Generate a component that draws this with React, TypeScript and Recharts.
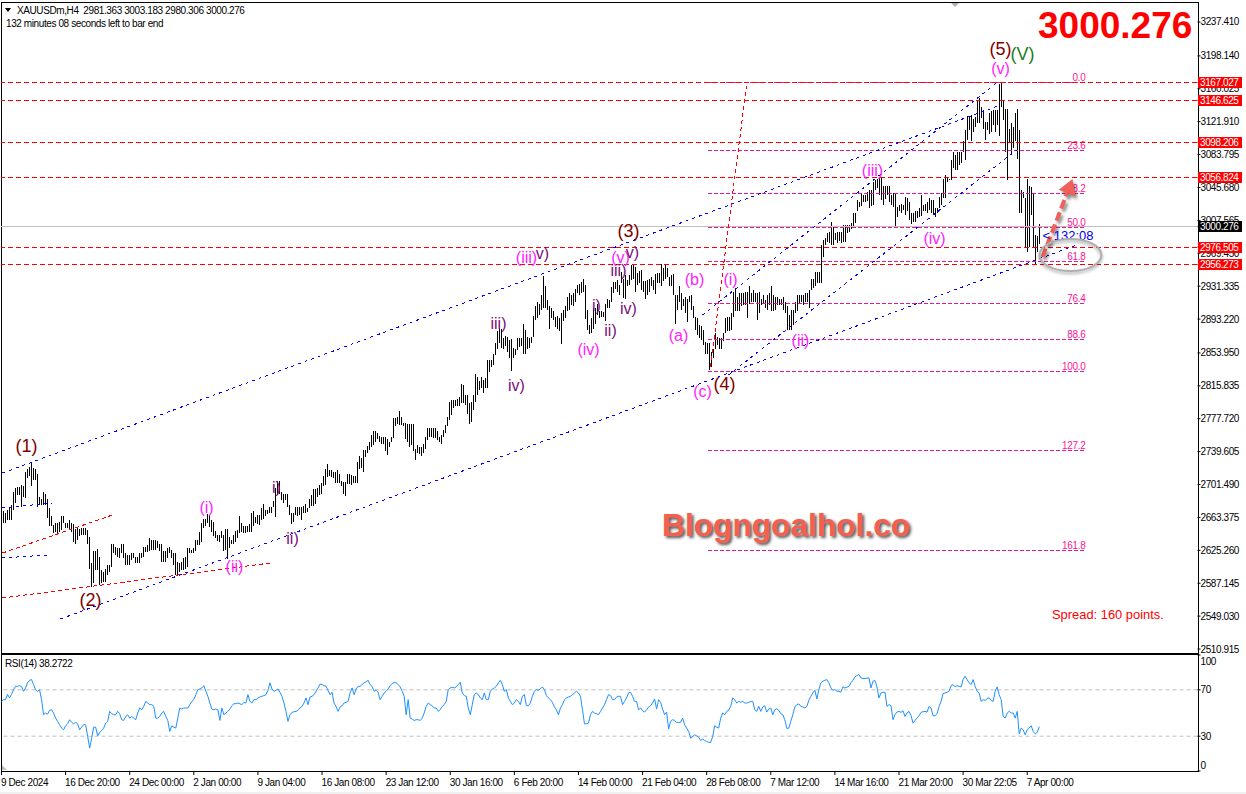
import React from 'react';
import { ComposedChart, Bar, Line, XAxis, YAxis, ReferenceLine, ReferenceDot } from 'recharts';

const FONT = '"Liberation Sans", Arial, sans-serif';
const PRICE_TICKS = [3237.41, 3198.14, 3160.025, 3121.91, 3083.795, 3045.68, 3007.565, 2969.45, 2931.335, 2893.22, 2853.95, 2815.835, 2777.72, 2739.605, 2701.49, 2663.375, 2625.26, 2587.145, 2549.03, 2510.915];
const RSI_TICKS = [0, 30, 70, 100];
const TIME_LABELS = ['9 Dec 2024', '16 Dec 20:00', '24 Dec 00:00', '2 Jan 00:00', '9 Jan 04:00', '16 Jan 08:00', '23 Jan 12:00', '30 Jan 16:00', '6 Feb 20:00', '14 Feb 00:00', '21 Feb 04:00', '28 Feb 08:00', '7 Mar 12:00', '14 Mar 16:00', '21 Mar 20:00', '30 Mar 22:05', '7 Apr 00:00'];
const TIME_TICK_STEP = 32;
const SLOTS = 598;

const highs = [
  2671,2668,2672,2674,2678,2693,2698,2699,2699,2701,2700,2716,2720,2722,2727,2721,2719,2714,2687,2685,
  2693,2691,2685,2674,2665,2655,2657,2657,2658,2665,2665,2657,2657,2660,2657,2656,2650,2651,2650,2651,
  2651,2651,2649,2641,2610,2624,2624,2627,2618,2602,2600,2604,2608,2608,2632,2632,2629,2628,2628,2633,
  2633,2622,2620,2620,2622,2622,2618,2618,2622,2622,2629,2629,2631,2639,2637,2637,2637,2636,2633,2633,
  2624,2624,2628,2629,2626,2622,2622,2612,2610,2612,2616,2618,2628,2628,2626,2628,2637,2637,2647,2657,
  2662,2662,2667,2666,
  2660,2658,2648,2643,2643,2648,2643,2650,2650,2641,2637,2643,2648,2649,2665,2657,2653,2653,2653,2656,
  2669,2671,2664,2666,2666,2674,2679,2672,2672,2675,2676,2682,2697,2705,2705,2693,2691,2691,2691,2678,
  2668,2668,2675,2675,2676,2676,2677,2679,2674,2685,2689,2696,2696,2698,2701,2703,2711,2720,2725,2718,
  2718,2716,2716,2718,2714,2705,2704,2704,2714,2714,2712,2711,2711,2728,2734,2732,2741,2741,2746,2751,
  2759,2763,2763,2761,2758,2756,2756,2756,2754,2751,2757,2778,2778,2780,2787,2780,2773,2773,2772,2772,
  2772,2772,2743,2747,2745,
  2745,2749,2757,2767,2767,2767,2767,2767,2763,2757,2759,2765,2770,2780,2797,2799,2799,2800,2801,2803,
  2818,2817,2805,2805,2796,2797,2805,2830,2826,2821,2826,2823,2825,2846,2846,2846,2853,2865,2879,2882,
  2882,2871,2874,2872,2869,2870,2860,2859,2871,2871,2871,2887,2881,2872,2871,2873,2897,2908,2913,2911,
  2921,2943,2931,2915,2908,2906,2902,2896,2897,2894,2900,2904,2908,2919,2923,2921,2923,2928,2933,2934,
  2936,2940,2933,2904,2886,2894,2906,2906,2911,2902,2902,2901,2911,2916,2915,2930,2936,2936,2939,2933,
  2948,2940,2944,2938,2944,
  2956,2957,2953,2946,2949,2950,2937,2937,2939,2940,2942,2938,2945,2946,2946,2957,2952,2956,2952,2942,
  2944,2945,2921,2921,2931,2923,2917,2919,2917,2920,2921,2908,2896,2894,2886,2885,2881,2867,2865,2865,
  2855,2859,2877,2873,2871,2871,2877,2894,2896,2896,2900,2925,2929,2919,2923,2923,2923,2925,2925,2931,
  2923,2927,2923,2923,2925,2917,2921,2915,2921,2923,2931,2921,2919,2919,2917,2917,2919,2913,2908,2898,
  2904,2904,2913,2921,2921,2921,2921,2923,2923,2927,2940,2940,2948,2948,2948,
  2979,2985,2987,2993,2994,
  3006,3000,2993,2994,2994,2994,3002,3002,3002,3002,3004,3016,3016,3031,3029,3039,3037,3037,3041,3043,
  3043,3052,3054,3056,3058,3058,3047,3047,3047,3047,3037,3039,3039,3023,3025,3027,3025,3035,3033,3029,
  3016,3016,3018,3018,3022,3037,3025,3027,3029,3033,3031,3031,3022,3022,3035,3039,3056,3060,3058,3056,
  3078,3087,3083,3087,3087,3087,3099,3112,3128,3129,3130,3125,3127,3147,3149,3139,3135,3122,3122,3132,
  3134,3135,3135,3135,3166,3167,3146,3137,3137,3114,3120,3116,3132,3137,3112,3043,3041,3033,3056,3047,
  3046,3039,2991,2989,3003.183,
];

const lows = [
  2657,2657,2660,2660,2660,2672,2680,2689,2689,2676,2687,2686,2709,2711,2700,2707,2707,2675,2678,2678,
  2678,2678,2663,2653,2653,2645,2646,2643,2647,2649,2657,2651,2651,2649,2646,2635,2633,2637,2642,2643,
  2643,2643,2633,2604,2583,2587,2602,2602,2585,2587,2589,2589,2597,2600,2606,2622,2620,2618,2616,2622,
  2616,2608,2608,2608,2614,2616,2610,2610,2610,2616,2618,2623,2623,2624,2626,2626,2626,2628,2624,2612,
  2612,2612,2616,2622,2616,2608,2597,2597,2600,2602,2602,2604,2606,2622,2622,2622,2624,2631,2631,2635,
  2651,2653,2657,2652,
  2647,2642,2640,2636,2635,2639,2625,2626,2615,2628,2633,2633,2635,2640,2645,2646,2645,2645,2646,2647,
  2646,2653,2657,2656,2655,2660,2661,2665,2667,2668,2669,2675,2664,2689,2691,2684,2680,2684,2675,2666,
  2656,2658,2666,2665,2666,2660,2668,2669,2670,2674,2677,2677,2679,2687,2689,2691,2700,2701,2710,2711,
  2710,2709,2703,2703,2703,2700,2691,2688,2702,2702,2701,2703,2703,2703,2720,2721,2716,2733,2738,2742,
  2745,2747,2751,2754,2751,2748,2748,2740,2736,2745,2751,2755,2769,2772,2770,2770,2769,2754,2751,2745,
  2747,2740,2730,2738,2737,
  2734,2738,2743,2753,2757,2757,2755,2755,2753,2751,2749,2757,2761,2769,2776,2782,2790,2792,2792,2792,
  2796,2796,2794,2783,2772,2774,2788,2797,2805,2811,2813,2807,2813,2813,2832,2838,2840,2852,2859,2865,
  2860,2859,2862,2855,2848,2833,2848,2852,2857,2861,2862,2853,2853,2858,2860,2865,2873,2892,2894,2898,
  2904,2906,2906,2904,2882,2894,2892,2884,2882,2879,2864,2891,2894,2902,2904,2909,2908,2913,2923,2921,
  2923,2925,2893,2880,2876,2877,2882,2888,2898,2895,2896,2896,2891,2906,2906,2913,2923,2928,2925,2921,
  2935,2918,2917,2931,2933,
  2938,2940,2924,2933,2935,2927,2925,2917,2921,2925,2931,2927,2922,2935,2935,2931,2937,2940,2942,2931,
  2931,2921,2888,2904,2913,2904,2908,2900,2890,2913,2904,2894,2881,2875,2871,2869,2863,2853,2853,2834,
  2838,2848,2859,2863,2859,2859,2868,2877,2879,2879,2881,2896,2902,2902,2902,2908,2909,2909,2894,2911,
  2913,2913,2913,2892,2900,2909,2911,2906,2904,2909,2903,2902,2904,2909,2909,2909,2904,2900,2881,2881,
  2881,2886,2900,2902,2911,2913,2909,2913,2913,2906,2927,2929,2931,2935,2935,
  2935,2965,2979,2982,2981,
  2979,2979,2985,2981,2984,2981,2982,2983,2993,2994,2998,3000,3004,3018,3023,3024,3029,3029,3030,3022,
  3024,3025,3043,3045,3037,3031,3025,3032,3037,3029,3025,3023,3000,3011,3018,3016,3020,3014,3018,3008,
  3003,3006,3006,3010,3012,3013,3018,3018,3016,3020,3016,3014,3012,3016,3022,3025,3033,3033,3052,3054,
  3054,3068,3066,3066,3072,3074,3087,3078,3101,3112,3100,3110,3116,3120,3120,3126,3114,3101,3112,3108,
  3110,3118,3110,3118,3105,3139,3124,3087,3054,3097,3085,3091,3099,3079,3016,3016,3033,2977,2971,2977,
  3014,2977,2956.3,2971,2980.306,
];

const rsiValues = [
  60,61.5,61.5,66,63,66,70,73,73,73.6,73,68.7,71.6,76,78.2,78.8,74.5,70,68.7,70,61.5,48.5,50,49,52.3,52.8,50,45.6,42.8,39.9,37,35.5,
  39,40.7,44.2,41.9,40.7,41.9,40.7,35.5,37.8,39.9,39.9,29.8,19.7,28.3,37.8,37.8,30.3,33.2,35,37,41.3,42.8,51.4,49.4,48.5,48.5,51.4,49.4,44.2,43.6,47,48.5,
  45.6,47,45.6,44.2,50,54.3,52.8,55.7,60,58.6,57.2,57.2,55.7,45.6,45.6,47,50,51.4,47,43.6,34.1,39,37.8,37,45.6,54.3,53.4,54.3,54.3,54.3,57.2,60,
  61.5,65.8,70.2,70.7,71.6,73.6,68.7,64.4,58.6,53.4,52.8,53.4,52.8,43.6,54.3,48.5,50,51.4,53.4,56.3,58,58,58.6,58,57.2,59.2,58.6,65.8,60,58.6,61.5,61.5,
  63,63.8,64.4,65,65.8,69.6,76,70.7,68.7,69.6,70.7,67.9,64.4,58.6,51.4,42.8,48.5,50.5,51.1,51.4,52.3,54.3,55.7,58.6,63,57.2,63.8,64.4,65.8,68.7,71.6,75,
  74.5,73.6,73,69.6,65.8,67.9,58.6,55.7,51.4,55.2,56.3,58.6,59.2,60,67.3,71.6,65.8,70.7,73,73,74.5,76,76.8,78.2,74.5,73,68.7,69.6,67.9,61.5,64.4,67.3,
  68.7,70.7,73.6,75.4,76.2,76,74.5,72.5,68.7,64.4,48.5,61.5,45.6,44.8,43.6,44.2,44.2,43.6,45.6,50,55.7,58.6,57.2,56.3,54.3,54.3,51.4,52.8,55.7,57.2,60,70.2,
  71.6,72.2,71.6,72.5,74.5,76.5,67.3,65,64.4,54.3,48.5,57.2,65.8,67.3,65.8,63,61.5,67.3,61.5,61.5,68.7,70.7,71.6,73,76,78.2,74.5,68.7,70.2,63,60,57.2,
  58.6,61.5,60,57.2,64.4,65.8,56.3,56.3,58.6,64.4,68.7,70.2,69.6,70.7,72.5,70.2,65,63,61.5,59.2,55.2,52.8,48.5,54.3,57.2,61.5,63,63.8,64.4,65.8,67.3,68.7,
  67.3,64.4,52.8,40.7,40.7,41.3,48.5,51.4,50,49.4,48.5,51.4,54.3,57.2,61.5,65.8,65,61.5,61.5,63.8,64.4,64.4,57.2,60,63,67.3,67.9,64.4,60,60,52.8,54.3,
  52,50.8,52.8,55.2,56.3,58.6,62.1,53.4,61.5,59.2,53.4,48.5,50.8,36.1,42.8,44.2,43.6,41.9,41.9,41.9,45.6,39.9,37,34.1,28.3,29.8,31.2,30.3,29.2,26.3,27.5,26.3,
  25.4,24.6,24.6,29.8,39,37.8,37,45.6,50,48.5,51.4,52.3,55.7,63,61.5,58.6,60,59.2,60,58.6,58.6,59.2,60,60,52.8,51.4,55.7,51.4,55.2,56.3,50.8,53.4,
  54.3,48.5,52.8,53.7,52.3,49.4,48.5,44.2,36.7,37,42.8,48.5,55.2,57.2,57.8,55.7,55.2,54.3,55.7,60.9,64.4,67.3,69.6,62.1,70.2,76,77.4,78.2,78.8,76,71.6,69.6,
  70.2,68.7,68.7,67.9,72.5,71.6,72.2,73,76,78.2,81.1,82.3,83.2,80.3,79.7,79.7,80,80.3,71.6,77.4,78,72.5,63,67.3,67.9,67.9,55.7,57.2,56.3,44.2,48.5,50.8,
  51.4,50.5,52,47,50,51.4,47.7,41.3,43.6,45.6,47.7,50.5,51.1,51.4,50.8,55.7,54.3,47.7,47.7,49.4,55.7,60,66.7,67.3,67.9,68.7,73.6,74.5,72.5,73.6,73,72.5,
  78.8,81.7,78.8,76,74.5,78.8,73,68.7,67.3,60,61.5,60.9,62.4,63,60.9,60,68.7,72.5,65.8,61.5,47,45.6,50,51.4,50,50,45.6,51.4,32.1,37,35.5,31.2,
  35.5,37,39,34,32,33.2,38.2722,
];

const redLevels = [3167.027, 3146.625, 3098.206, 3056.824, 2976.505, 2956.273];
const currentPrice = 3000.276;
const fibLevels = [3167.027, 3088, 3039, 2999.5, 2960, 2911, 2870, 2832, 2741, 2625];
const fibNames = ['0.0', '23.6', '38.2', '50.0', '61.8', '76.4', '88.6', '100.0', '127.2', '161.8'];
const fibStart = 353;
const fibEnd = 542;

const blueTrends = [
  [0, 2714.8, 499, 3141.2],
  [29, 2545.7, 537, 2979],
  [350, 2897.9, 497, 3166.7],
  [363, 2828.4, 507, 3089.1],
  [0, 2674.3, 25, 2680.1],
  [0, 2616.4, 22, 2619.8],
];
const redTrends = [
  [0, 2622.1, 55, 2666.2],
  [0, 2570, 134, 2610.6],
  [354, 2837.7, 372, 3163.3],
];

const MAROON = '#800000';
const PINK = '#ff22ff';
const PURPLE = '#7a0f7a';
const GREEN = '#1c7c1c';
const waveLabels: [string, number, number, string, number][] = [
  ['(1)', 12, 2746, MAROON, 18], ['(2)', 44, 2567.7, MAROON, 18], ['(3)', 313, 2995.2, MAROON, 18], ['(4)', 361, 2818, MAROON, 18], ['(5)', 499, 3206, MAROON, 18],
  ['(V)', 510, 3200.3, GREEN, 18],
  ['(i)', 102, 2675.4, PINK, 16], ['(ii)', 116, 2607, PINK, 16], ['i)', 137, 2698.6, PURPLE, 16], ['ii)', 145, 2639.5, PURPLE, 16],
  ['iii)', 248, 2888.6, PURPLE, 16], ['iv)', 257, 2816.8, PURPLE, 16], ['(iii)', 262, 2964, PINK, 16], ['v)', 270, 2969.7, PURPLE, 16],
  ['(iv)', 293, 2858.5, PINK, 16], ['i)', 297, 2909.5, PURPLE, 16], ['ii)', 304, 2880.5, PURPLE, 16], ['iii)', 308, 2950, PURPLE, 16],
  ['(v)', 309, 2965, PINK, 16], ['v)', 315, 2970.9, PURPLE, 16], ['iv)', 313, 2906, PURPLE, 16],
  ['(a)', 338, 2873.6, PINK, 16], ['(b)', 346, 2938.5, PINK, 16], ['(c)', 350, 2808.7, PINK, 16],
  ['(i)', 364, 2939.6, PINK, 16], ['(ii)', 399, 2868.9, PINK, 16], ['(iii)', 435, 3065.9, PINK, 16], ['(iv)', 466, 2987.1, PINK, 16], ['(v)', 499, 3184.1, PINK, 16],
];

const rows = Array.from({ length: SLOTS }, (_, i) => ({
  i,
  range: i < highs.length ? [lows[i], highs[i]] : null,
  rsi: i < rsiValues.length ? rsiValues[i] : null,
}));
const timeTicks = TIME_LABELS.map((_, k) => k * TIME_TICK_STEP);
const allPriceTicks = [...PRICE_TICKS, currentPrice, ...redLevels];

const snap = (v: number) => Math.floor(v) + 0.5;

const hLine = (color: string, dash?: string) => (p: any) => {
  const y = snap(p.y1);
  return <line x1={Math.floor(p.x1)} x2={Math.floor(p.x2)} y1={y} y2={y} stroke={color} strokeDasharray={dash} />;
};

const fibLine = (name: string) => (p: any) => {
  const y = snap(p.y1);
  return (
    <g>
      <line x1={Math.floor(p.x1)} x2={Math.floor(p.x2)} y1={y} y2={y} stroke="#e0189a" strokeDasharray="4 2" />
      <text x={p.x2 - 1} y={y - 2} textAnchor="end" fill="#ff1493" fontSize={10} letterSpacing={-0.3} fontFamily={FONT}>{name}</text>
    </g>
  );
};

const trendLine = (color: string, dash: string) => (p: any) => (
  <line x1={p.x1} y1={p.y1} x2={p.x2} y2={p.y2} stroke={color} strokeDasharray={dash} shapeRendering="crispEdges" />
);

const arrowShape = (p: any) => {
  const dx = p.x2 - p.x1, dy = p.y2 - p.y1;
  const len = Math.hypot(dx, dy), ux = dx / len, uy = dy / len;
  const bx = p.x2 - ux * 15, by = p.y2 - uy * 15;
  const head = `${p.x2},${p.y2} ${bx - uy * 9},${by + ux * 9} ${bx + uy * 9},${by - ux * 9}`;
  return (
    <g style={{ filter: 'drop-shadow(2px 3px 1.5px rgba(0,0,0,0.45))' }}>
      <line x1={p.x1} y1={p.y1} x2={bx} y2={by} stroke="#f0605a" strokeWidth={4} strokeDasharray="9 4" />
      <polygon points={head} fill="#f0605a" />
    </g>
  );
};

const ellipseShape = (p: any) => (
  <ellipse cx={p.cx} cy={p.cy} rx={31} ry={16} fill="none" stroke="#b0b0b0" strokeWidth={2} style={{ filter: 'drop-shadow(0px 2px 1.5px rgba(0,0,0,0.35))' }} />
);

const textShape = (t: string, color: string, size: number) => (p: any) => (
  <text x={p.cx} y={p.cy} textAnchor="middle" dominantBaseline="central" fill={color} fontSize={size} fontFamily={FONT}>{t}</text>
);

const countdownShape = (p: any) => (
  <text x={p.cx} y={p.cy} dominantBaseline="central" fill="#0000ee" fontSize={13} fontFamily={FONT}>{'< 132:08'}</text>
);

const priceTick = (p: any) => {
  const v = p.payload.value;
  const isTag = v === currentPrice || redLevels.includes(v);
  if (!isTag) {
    return <text x={p.x} y={p.y + 3.5} fill="#000" fontSize={10} letterSpacing={-0.4} fontFamily={FONT}>{v.toFixed(3)}</text>;
  }
  const y = Math.floor(p.y);
  return (
    <g>
      <rect x={1198} y={y - 5} width={44} height={11} fill={v === currentPrice ? '#000' : '#ff0000'} />
      <text x={1200} y={y + 4} fill="#fff" fontSize={10} letterSpacing={-0.4} fontFamily={FONT}>{v.toFixed(3)}</text>
    </g>
  );
};

const rsiTick = (p: any) => {
  const v = p.payload.value;
  const off = v === 100 ? 6 : v === 0 ? -6 : 0;
  return <text x={p.x} y={p.y + off + 3.5} fill="#000" fontSize={10} letterSpacing={-0.4} fontFamily={FONT}>{v}</text>;
};

const timeTick = (p: any) => (
  <text x={p.x - 0.5} y={p.y + 9} fill="#000" fontSize={10} letterSpacing={-0.4} fontFamily={FONT}>
    {TIME_LABELS[p.payload.value / TIME_TICK_STEP]}
  </text>
);

const abs = (left: number, top: number, extra: React.CSSProperties = {}): React.CSSProperties => ({ position: 'absolute', left, top, ...extra });
const smallText: React.CSSProperties = { fontFamily: FONT, fontSize: 10, letterSpacing: -0.4, lineHeight: '12px', whiteSpace: 'pre', color: '#000' };

export default function App() {
  return (
    <div style={{ position: 'absolute', left: 0, top: 0, width: 1246, height: 794, background: '#fff', overflow: 'hidden' }}>
      <div style={abs(1, 2, { width: 1196, height: 650, border: '1px solid #000', boxSizing: 'content-box' })} />
      <div style={abs(1, 654, { width: 1196, height: 116, border: '1px solid #000' })} />
      <div style={abs(0, 792, { width: 1246, height: 2, background: '#f0f0f0' })} />

      <div style={abs(0, 0)}>
        <ComposedChart width={1246} height={653} data={rows} margin={{ top: 3, right: 0, bottom: 1, left: 1.5 }}>
          <XAxis dataKey="i" type="category" hide />
          <YAxis orientation="right" width={48.5} type="number" domain={[2507.44, 3259.42]} ticks={allPriceTicks} interval={0}
            axisLine={false} tickSize={3} tickMargin={0} tickLine={{ stroke: '#000' }} tick={priceTick} allowDataOverflow />
          <Bar dataKey="range" barSize={1} fill="#000" isAnimationActive={false} shapeRendering="crispEdges" />
          {fibLevels.map((v, k) => (
            <ReferenceLine key={'f' + k} segment={[{ x: fibStart, y: v }, { x: fibEnd, y: v }]} shape={fibLine(fibNames[k])} />
          ))}
          <ReferenceLine y={currentPrice} shape={hLine('#c0c0c0')} />
          {redLevels.map((v) => (
            <ReferenceLine key={v} y={v} shape={hLine('#ff0000', '5 3')} />
          ))}
          {blueTrends.map((t, k) => (
            <ReferenceLine key={'b' + k} segment={[{ x: t[0], y: t[1] }, { x: t[2], y: t[3] }]} shape={trendLine('#0000ff', '3 4')} />
          ))}
          {redTrends.map((t, k) => (
            <ReferenceLine key={'r' + k} segment={[{ x: t[0], y: t[1] }, { x: t[2], y: t[3] }]} shape={trendLine('#ff0000', '4 3')} />
          ))}
          {waveLabels.map((w, k) => (
            <ReferenceDot key={'w' + k} x={w[1]} y={w[2]} r={0} shape={textShape(w[0], w[3], w[4])} />
          ))}
          <ReferenceDot x={520} y={2990} r={0} shape={countdownShape} />
          <ReferenceDot x={534} y={2967.4} r={0} shape={ellipseShape} />
          <ReferenceLine segment={[{ x: 520, y: 2965.1 }, { x: 535, y: 3055.5 }]} shape={arrowShape} />
        </ComposedChart>
      </div>

      <div style={abs(0, 654)}>
        <ComposedChart width={1246} height={140} data={rows} margin={{ top: 1, right: 0, bottom: 0, left: 1.5 }}>
          <XAxis dataKey="i" type="category" ticks={timeTicks} interval={0} height={23} axisLine={false} tickSize={4} tickLine={{ stroke: '#000' }} tick={timeTick} />
          <YAxis orientation="right" width={48.5} type="number" domain={[0, 100]} ticks={RSI_TICKS} interval={0}
            axisLine={false} tickSize={3} tickMargin={0} tickLine={{ stroke: '#000' }} tick={rsiTick} />
          <ReferenceLine y={70} stroke="#c0c0c0" strokeDasharray="4 3" />
          <ReferenceLine y={30} stroke="#c0c0c0" strokeDasharray="4 3" />
          <Line dataKey="rsi" type="linear" stroke="#1e90ff" strokeWidth={1} dot={false} isAnimationActive={false} />
        </ComposedChart>
      </div>

      <div style={abs(5, 8, { width: 0, height: 0, borderLeft: '3.5px solid transparent', borderRight: '3.5px solid transparent', borderTop: '4px solid #000' })} />
      <div style={abs(17, 5, smallText)}>{'XAUUSDm,H4  2981.363 3003.183 2980.306 3000.276'}</div>
      <div style={abs(6, 18, smallText)}>132 minutes 08 seconds left to bar end</div>
      <div style={abs(5, 658, smallText)}>RSI(14) 38.2722</div>
      <div style={abs(951, 3, { width: 0, height: 0, borderLeft: '4px solid transparent', borderRight: '4px solid transparent', borderTop: '4px solid #b0b0b0' })} />
      <div style={abs(2, 765, { width: 0, height: 0, borderLeft: '5px solid #c0c0c0', borderTop: '5px solid transparent' })} />
      <div style={abs(1038, 5, { fontFamily: FONT, fontWeight: 700, fontSize: 37, lineHeight: '42px', color: '#ff0000' })}>3000.276</div>
      <div style={abs(662, 506, { fontFamily: FONT, fontWeight: 700, fontSize: 31.7, lineHeight: '38px', color: '#f4604f', textShadow: '2px 2px 3px #555', whiteSpace: 'pre' })}>Blogngoalhol.co</div>
      <div style={abs(1052, 607, { fontFamily: FONT, fontSize: 12.9, lineHeight: '16px', color: '#ff0000', whiteSpace: 'pre' })}>Spread: 160 points.</div>
    </div>
  );
}
